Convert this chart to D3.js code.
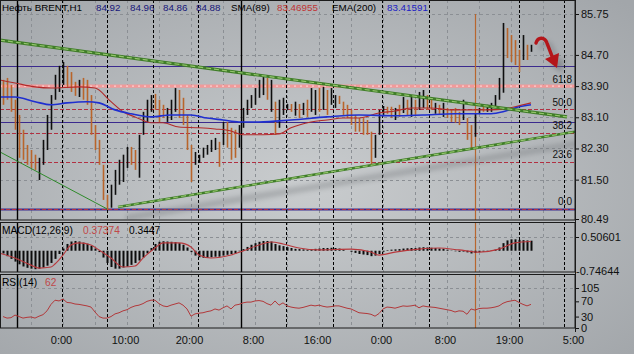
<!DOCTYPE html>
<html>
<head>
<meta charset="utf-8">
<script src="https://cdn.jsdelivr.net/npm/d3@7"></script>
<style>
    html, body { margin: 0; padding: 0; background: #b3b6b9; }
    svg { display: block; font-family: 'Liberation Sans', Arial, sans-serif; }
    .axis text { font-size: 11px; fill: #111; }
    .axis line { stroke: #111; }
</style>
</head>
<body>
<svg id="chart" width="634" height="354"></svg>
<script>
/**
 * Data. Bars are H1, one every bar index.
 */
const barHigh = [84.06,84.11,83.93,83.55,83.16,82.78,82.39,82.26,82.14,82.06, 82.52,83.16,83.67,84.19,84.42,84.52,84.42,84.26,84.01,84.06,
    84.11,84.06,83.67,82.90,82.52,81.88,81.11,81.37,81.75,82.01, 82.14,82.34,82.34,82.26,82.65,83.24,83.55,83.67,83.70,83.55,
    83.42,83.34,83.55,83.85,83.80,83.60,83.16,82.39,82.21,82.14, 82.32,82.39,82.52,82.57,82.47,82.98,82.98,82.83,82.78,82.90,
    83.34,83.55,83.67,83.85,84.06,84.16,84.11,84.06,83.50,83.55, 83.60,83.44,83.44,83.50,83.44,83.47,83.55,83.85,83.80,83.85,
    83.88,83.80,83.85,83.67,83.65,83.50,83.42,83.29,83.16,83.08, 83.08,83.03,82.73,82.65,83.29,83.39,83.37,83.37,83.34,83.42,
    83.62,83.55,83.62,83.55,83.75,83.80,83.67,83.55,83.47,83.42, 83.47,83.34,83.29,83.34,83.24,83.55,83.08,82.90,83.21,83.34,
    83.39,83.42,83.47,83.67,84.11,85.52,85.39,85.21,85.08,84.83, 85.21,84.96,84.96];
const barLow = [83.42,83.55,83.24,82.78,82.06,82.01,81.88,81.80,81.75,81.49, 81.88,82.26,82.78,83.55,83.75,83.93,83.85,83.75,83.65,83.62,
    83.55,83.42,82.65,82.26,81.88,80.98,80.72,80.78,81.11,81.37, 81.44,81.80,81.88,81.75,81.55,82.65,82.98,83.24,83.29,82.98,
    83.08,82.98,83.03,83.24,83.08,82.90,82.26,81.44,81.88,81.93, 82.06,82.14,82.21,82.26,81.83,82.39,82.32,82.01,82.06,82.32,
    82.83,83.16,83.34,83.42,83.60,83.67,83.55,83.24,82.65,82.83, 83.16,83.29,83.24,83.14,83.08,83.16,83.11,83.24,83.16,83.24,
    83.29,83.16,83.42,83.34,83.44,83.16,83.08,82.90,82.73,82.73, 82.65,82.65,81.88,82.06,82.65,83.16,83.19,83.08,83.03,83.11,
    83.21,83.16,83.11,83.16,83.29,83.34,83.29,83.29,83.19,83.16, 83.11,83.08,82.98,82.96,82.90,83.03,82.52,82.26,82.60,83.21,
    83.24,83.24,83.24,83.37,83.55,83.73,84.62,84.52,84.44,84.26, 84.57,84.57,84.78];
// u = up bar, d = down bar
const barDir = ('ddddddddd' + 'uuuuuuu' + 'dddu' + 'ddddddd' + 'uuuuu' + 'dd' + 'uuuu' + 'ddd' + 'uuu' + 'dddd' +
    'uuuuuu' + 'du' + 'ddd' + 'uuuuuuu' + 'dud' + 'uuu' + 'dudud' + 'uu' + 'dud' + 'uu' + 'ddddddddd' + 'uuu' + 'dd' +
    'ududud' + 'uu' + 'dd' + 'udu' + 'dddd' + 'u' + 'dd' + 'uu' + 'd' + 'uuuuu' + 'dddd' + 'udu').split('');

// [bar index, price]
const smaPoints = [[-1,84.06],[3,83.98],[8,83.88],[12,83.85],[19,83.88],[23,83.85],[27,83.50],[30,83.24],[33,83.11],[37,82.96],
    [40,82.96],[44,82.85],[49,82.83],[53,82.80],[57,82.75],[60,82.65],[65,82.65],[69,82.67],[72,82.83],[77,82.98],[81,83.03],
    [85,83.08],[89,83.08],[94,83.21],[98,83.26],[102,83.34],[107,83.34],[112,83.29],[117,83.29],[122,83.29],[125,83.31],
    [128,83.37],[132,83.47]];
const emaPoints = [[-1,83.62],[3,83.62],[8,83.50],[12,83.42],[16,83.47],[21,83.50],[24,83.47],[28,83.29],[32,83.19],[37,83.11],
    [42,83.16],[47,83.16],[51,83.08],[55,83.03],[59,82.98],[64,82.98],[72,83.03],[81,83.11],[89,83.16],[98,83.14],[105,83.16],
    [113,83.19],[122,83.19],[125,83.24],[128,83.34],[132,83.42]];

const macdHist = [-0.10,-0.20,-0.30,-0.40,-0.50,-0.58,-0.63,-0.66,-0.68,-0.66, -0.62,-0.55,-0.45,-0.30,-0.12,0.08,0.25,0.34,0.36,0.34,
    0.30,0.26,0.18,0.08,-0.05,-0.25,-0.45,-0.60,-0.66,-0.66, -0.62,-0.58,-0.52,-0.45,-0.36,-0.25,-0.10,0.10,0.25,0.33,
    0.35,0.34,0.33,0.32,0.28,0.22,0.12,-0.05,-0.18,-0.24, -0.26,-0.26,-0.24,-0.22,-0.22,-0.18,-0.15,-0.12,-0.10,-0.02,
    0.06,0.14,0.22,0.28,0.33,0.36,0.36,0.34,0.25,0.20, 0.17,0.13,0.10,0.07,0.06,0.05,0.04,0.06,0.07,0.08,
    0.10,0.10,0.11,0.10,0.08,0.04,0.00,-0.04,-0.08,-0.12, -0.14,-0.16,-0.20,-0.18,-0.12,-0.04,0.02,0.04,0.05,0.06,
    0.08,0.09,0.10,0.10,0.12,0.13,0.12,0.11,0.10,0.08, 0.07,0.04,0.01,-0.02,-0.04,-0.03,-0.06,-0.10,-0.08,-0.05,
    -0.03,-0.01,0.01,0.04,0.12,0.28,0.38,0.42,0.42,0.40, 0.39,0.38,0.37];
const macdSignal = [[-1,-0.08],[3,-0.27],[7,-0.53],[9,-0.64],[12,-0.60],[13,-0.49],[15,-0.16],[17,0.21],[19,0.29],[22,0.21],
    [24,0.03],[27,-0.27],[30,-0.60],[33,-0.56],[35,-0.27],[38,0.10],[40,0.29],[44,0.29],[47,0.14],[49,-0.16],[52,-0.27],
    [57,-0.16],[60,-0.01],[64,0.21],[67,0.32],[70,0.25],[74,0.10],[79,0.03],[87,0.06],[92,-0.05],[94,-0.16],[98,-0.05],
    [104,0.06],[109,0.10],[114,0.03],[119,-0.05],[124,0.06],[128,0.29],[132,0.34]];

const rsiValues = [30,26,27,34,30,26,28,29,26,31, 35,45,62,73,71,76,67,66,63,62, 60,58,55,42,30,26,26,30,37,40,
    45,48,54,58,60,64,70,73,73,64, 58,56,60,63,66,60,50,31,37,39, 40,43,45,50,47,53,58,50,60,62,
    66,68,68,71,72,70,64,60,71,60, 66,58,55,53,52,54,57,60,58,60, 57,55,56,58,58,55,52,50,45,40,
    39,38,36,31,38,50,55,54,52,55, 58,57,58,60,53,58,56,55,54,52, 50,48,46,42,45,44,36,50,47,51,
    52,52,53,55,58,65,69,71,73,67, 62,58,62];

// Fibonacci grid and drawn objects
const fibLow = 80.75, fibHigh = 85.85;
const fibLevels = [0, 23.6, 38.2, 50.0, 61.8];
const fibLabels = ['0.0', '23.6', '38.2', '50.0', '61.8'];
const supportLines = [84.42, 82.98, 80.75];
const markedLine = 83.90;
const trendThick = [[[-0.75, 85.08], [141, 83.11]], [[28.75, 80.80], [143, 82.73]]];
const trendThin = [[-0.75, 82.21], [26, 80.75]];
const vSolid = [3.5, 59.5];
const vDashed = [14.75, 26, 37.5, 48.75, 70.75, 82.5, 94.75, 106.5, 129, 140.25];
const vMarker = 118;

// Axes
const priceTicks = [85.75, 84.70, 83.90, 83.10, 82.30, 81.50, 80.49];
const macdTicks = [0.50601, -0.74644];
const rsiTicks = [105, 70, 30, 0];
const timeLabels = ['0:00', '10:00', '20:00', '8:00', '16:00', '0:00', '8:00', '19:00', '5:00'];
const timePos = [14.5, 30.5, 46.5, 62.5, 78.5, 94.5, 110.5, 126.5, 142.5];

// Legends
const headerTexts = ['Нефть BRENT,H1', '84.92', '84.96', '84.86', '84.88', 'SMA(89)', '83.46955', 'EMA(200)', '83.41591'];
const macdTexts = ['MACD(12,26,9)', '0.37374', '0.3447'];
const rsiTexts = ['RSI(14)', '62'];

/**
 * Visual configs.
 */
const plotRight = 575,
    panels = {
        main: { top: 0, bottom: 220 },
        macd: { top: 222, bottom: 272 },
        rsi: { top: 274, bottom: 328 }
    },
    headerX = [2, 96, 130, 163, 196, 231, 277, 332, 387],
    headerFill = ['#000', '#16167a', '#16167a', '#16167a', '#16167a', '#000', '#c03434', '#000', '#2020c4'],
    upColor = '#0e0e0e',
    downColor = '#b9652b';

const svg = d3.select('#chart');

/**
 * D3 scales.
 */
const xScale = d3.scaleLinear().domain([0, 1]).range([3, 7]),
    yPrice = d3.scaleLinear().domain([80.49, 85.75]).range([219, 14]),
    yMacd = d3.scaleLinear().domain([-0.74644, 0.50601]).range([271, 237]),
    yRsi = d3.scaleLinear().domain([0, 105]).range([328, 288]);

const px = v => Math.round(xScale(v)) + 0.5;

function addDefs() {
    const defs = svg.append('defs');
    const bg = defs.append('radialGradient').attr('id', 'bg')
        .attr('cx', '48%').attr('cy', '52%').attr('r', '72%');
    bg.append('stop').attr('offset', '0%').attr('stop-color', '#c9ccce');
    bg.append('stop').attr('offset', '100%').attr('stop-color', '#a2a6aa');

    defs.append('filter').attr('id', 'blur').attr('x', '-20%').attr('y', '-200%').attr('width', '140%').attr('height', '500%')
        .append('feGaussianBlur').attr('stdDeviation', 2.5);

    Object.entries(panels).forEach(([k, p]) => {
        defs.append('clipPath').attr('id', 'clip-' + k)
            .append('rect').attr('x', 0).attr('y', p.top).attr('width', plotRight).attr('height', p.bottom - p.top);
    });
}

function addGrid(g, p, yLevels, yScale) {
    const dash = '3,3', col = '#8b8f94';
    g.selectAll('line.vgrid').data(d3.range(7, 143, 8)).join('line').attr('class', 'vgrid')
        .attr('x1', px).attr('x2', px).attr('y1', p.top).attr('y2', p.bottom)
        .attr('stroke', col).attr('stroke-dasharray', dash);
    g.selectAll('line.hgrid').data(yLevels).join('line').attr('class', 'hgrid')
        .attr('x1', 0).attr('x2', plotRight)
        .attr('y1', d => Math.round(yScale(d)) + 0.5).attr('y2', d => Math.round(yScale(d)) + 0.5)
        .attr('stroke', col).attr('stroke-dasharray', dash);
}

function addSeparators(g, p) {
    g.selectAll('line.vsolid').data(vSolid).join('line').attr('class', 'vsolid')
        .attr('x1', px).attr('x2', px).attr('y1', p.top).attr('y2', p.bottom)
        .attr('stroke', '#000').attr('stroke-width', 1.4);
    g.selectAll('line.vdash').data(vDashed).join('line').attr('class', 'vdash')
        .attr('x1', px).attr('x2', px).attr('y1', p.top).attr('y2', p.bottom)
        .attr('stroke', '#000').attr('stroke-dasharray', '3,2');
    g.append('line')
        .attr('x1', px(vMarker)).attr('x2', px(vMarker))
        .attr('y1', Math.max(p.top, yPrice(85.75))).attr('y2', p.bottom)
        .attr('stroke', '#b8662e').attr('stroke-width', 1.2);
}

function drawMain() {
    const p = panels.main;
    const g = svg.append('g').attr('clip-path', 'url(#clip-main)');
    addGrid(g, p, priceTicks.slice(0, 6), yPrice);

    // Fibo levels
    const fibPrice = l => fibLow + (fibHigh - fibLow) * l / 100;
    g.selectAll('line.sup').data(supportLines).join('line').attr('class', 'sup')
        .attr('x1', 0).attr('x2', plotRight)
        .attr('y1', d => Math.round(yPrice(d)) + 0.5).attr('y2', d => Math.round(yPrice(d)) + 0.5)
        .attr('stroke', '#3b2a8e').attr('stroke-width', (d, i) => i === 2 ? 2 : 1.2);
    g.selectAll('line.fib').data(fibLevels).join('line').attr('class', 'fib')
        .attr('x1', 0).attr('x2', plotRight)
        .attr('y1', d => Math.round(yPrice(fibPrice(d))) + 0.5).attr('y2', d => Math.round(yPrice(fibPrice(d))) + 0.5)
        .attr('stroke', '#b23042').attr('stroke-dasharray', '4,2');
    g.selectAll('text.fib').data(fibLevels).join('text').attr('class', 'fib')
        .attr('x', 572).attr('y', d => yPrice(fibPrice(d)) - 3.5)
        .attr('text-anchor', 'end').attr('font-size', 10).attr('fill', '#111')
        .text((d, i) => fibLabels[i]);

    // Marked level with shadow
    const my = yPrice(markedLine);
    g.append('line').attr('x1', 0).attr('x2', plotRight).attr('y1', my + 8).attr('y2', my + 8)
        .attr('stroke', '#6d7175').attr('stroke-width', 4).attr('opacity', 0.55).attr('filter', 'url(#blur)');
    g.append('line').attr('x1', 0).attr('x2', plotRight).attr('y1', my).attr('y2', my)
        .attr('stroke', '#f19a9a').attr('stroke-width', 3.2);
    g.append('line').attr('x1', 0).attr('x2', plotRight).attr('y1', my).attr('y2', my)
        .attr('stroke', '#fbd0d0').attr('stroke-width', 1.2).attr('stroke-dasharray', '2,4');

    addSeparators(g, p);

    // Bars
    const bars = barHigh.map((h, i) => ({ i, high: h, low: barLow[i], up: barDir[i] === 'u' }));
    g.selectAll('line.bar').data(bars).join('line').attr('class', 'bar')
        .attr('x1', d => px(d.i)).attr('x2', d => px(d.i))
        .attr('y1', d => yPrice(d.high)).attr('y2', d => yPrice(d.low))
        .attr('stroke', d => d.up ? upColor : downColor).attr('stroke-width', 1.6);

    // Moving averages
    const line = d3.line().x(d => xScale(d[0])).y(d => yPrice(d[1])).curve(d3.curveMonotoneX);
    g.append('path').attr('d', line(smaPoints)).attr('fill', 'none').attr('stroke', '#b22a2a').attr('stroke-width', 1.1);
    g.append('path').attr('d', line(emaPoints)).attr('fill', 'none').attr('stroke', '#1f2fd0').attr('stroke-width', 1.6);

    // Trend lines
    const tl = d3.line().x(d => xScale(d[0])).y(d => yPrice(d[1]));
    const rising = trendThick[1];
    g.append('path').attr('d', tl(rising)).attr('transform', 'translate(8,11)')
        .attr('fill', 'none').attr('stroke', '#74787c').attr('stroke-width', 6).attr('opacity', 0.4).attr('filter', 'url(#blur)');
    g.append('path').attr('d', tl(trendThin)).attr('fill', 'none').attr('stroke', '#2e8a2a').attr('stroke-width', 1);
    trendThick.forEach((t, i) => {
        g.append('path').attr('d', tl(t)).attr('fill', 'none').attr('stroke', '#3f7d28').attr('stroke-width', i ? 2.6 : 3.2);
        g.append('path').attr('d', tl(t)).attr('fill', 'none').attr('stroke', '#93c46c')
            .attr('stroke-width', 1.2).attr('stroke-dasharray', '5,3');
    });

    // Arrow annotation
    const ax = xScale(133.5), ay = yPrice(85.03);
    const arrow = svg.append('g');
    [['translate(' + (ax + 5) + ',' + (ay + 5) + ')', '#6c7074', 0.55, 'url(#blur)'],
        ['translate(' + ax + ',' + ay + ')', '#b4161a', 1, null]].forEach(([tr, col, op, f]) => {
        const a = arrow.append('g').attr('transform', tr).attr('opacity', op).attr('filter', f);
        a.append('path').attr('d', 'M-1,1 C1,-6 8,-5 10,1 L15,14')
            .attr('fill', 'none').attr('stroke', col).attr('stroke-width', 3.4).attr('stroke-linecap', 'round');
        a.append('path').attr('d', 'M20,26 L8,17 L22,11 Z').attr('fill', col);
    });

    // Header
    svg.selectAll('text.head').data(headerTexts).join('text').attr('class', 'head')
        .attr('x', (d, i) => headerX[i]).attr('y', 11)
        .attr('font-size', 9.8).attr('fill', (d, i) => headerFill[i]).text(d => d);
}

function drawMacd() {
    const p = panels.macd;
    const g = svg.append('g').attr('clip-path', 'url(#clip-macd)');
    addGrid(g, p, [macdTicks[0]], yMacd);
    addSeparators(g, p);

    g.selectAll('line.hist').data(macdHist).join('line').attr('class', 'hist')
        .attr('x1', (d, i) => xScale(i) + 0.5).attr('x2', (d, i) => xScale(i) + 0.5)
        .attr('y1', yMacd(0)).attr('y2', d => yMacd(d))
        .attr('stroke', '#0c0c0c').attr('stroke-width', 2);

    const line = d3.line().x(d => xScale(d[0])).y(d => yMacd(d[1])).curve(d3.curveMonotoneX);
    g.append('path').attr('d', line(macdSignal)).attr('fill', 'none').attr('stroke', '#b8383c').attr('stroke-width', 1.1);

    const fills = ['#000', '#c04848', '#000'], xs = [2, 83, 129];
    svg.selectAll('text.macd').data(macdTexts).join('text').attr('class', 'macd')
        .attr('x', (d, i) => xs[i]).attr('y', p.top + 12)
        .attr('font-size', 10.2).attr('fill', (d, i) => fills[i]).text(d => d);
}

function drawRsi() {
    const p = panels.rsi;
    const g = svg.append('g').attr('clip-path', 'url(#clip-rsi)');
    addGrid(g, p, [105], yRsi);
    addSeparators(g, p);

    const line = d3.line().x((d, i) => xScale(i)).y(d => yRsi(d));
    g.append('path').attr('d', line(rsiValues)).attr('fill', 'none').attr('stroke', '#b2383a').attr('stroke-width', 1);

    const fills = ['#000', '#c04848'], xs = [2, 45];
    svg.selectAll('text.rsi').data(rsiTexts).join('text').attr('class', 'rsi')
        .attr('x', (d, i) => xs[i]).attr('y', p.top + 12)
        .attr('font-size', 10.2).attr('fill', (d, i) => fills[i]).text(d => d);
}

function drawFramesAndAxes() {
    Object.values(panels).forEach(p => {
        svg.append('rect').attr('x', 0.5).attr('y', p.top + 0.5)
            .attr('width', plotRight - 0.5).attr('height', p.bottom - p.top - 0.5)
            .attr('fill', 'none').attr('stroke', '#1b1b1b');
    });

    const priceAxis = svg.append('g').attr('class', 'axis').attr('transform', 'translate(' + plotRight + ',0)')
        .call(d3.axisRight(yPrice).tickValues(priceTicks).tickFormat(d3.format('.2f')).tickSize(4).tickPadding(2));
    const macdAxis = svg.append('g').attr('class', 'axis').attr('transform', 'translate(' + plotRight + ',0)')
        .call(d3.axisRight(yMacd).tickValues(macdTicks).tickFormat(d => d.toFixed(5)).tickSize(4).tickPadding(2));
    macdAxis.selectAll('.tick').filter(d => d < 0).each(function() {
        d3.select(this).select('line').remove();
        d3.select(this).select('text').attr('x', 1);
    });
    const rsiAxis = svg.append('g').attr('class', 'axis').attr('transform', 'translate(' + plotRight + ',0)')
        .call(d3.axisRight(yRsi).tickValues(rsiTicks).tickSize(4).tickPadding(2));
    const timeAxis = svg.append('g').attr('class', 'axis').attr('transform', 'translate(0,' + panels.rsi.bottom + ')')
        .call(d3.axisBottom(xScale).tickValues(timePos).tickFormat((d, i) => timeLabels[i]).tickSize(0).tickPadding(8));

    [priceAxis, macdAxis, rsiAxis, timeAxis].forEach(a => a.select('.domain').remove());
    svg.selectAll('.axis text').attr('font-family', "'Liberation Sans', Arial, sans-serif");

    svg.append('line').attr('x1', plotRight + 0.5).attr('x2', plotRight + 0.5).attr('y1', 0).attr('y2', panels.rsi.bottom + 4)
        .attr('stroke', '#1b1b1b');
}

addDefs();
svg.append('rect').attr('width', 634).attr('height', 354).attr('fill', 'url(#bg)');
drawMain();
drawMacd();
drawRsi();
drawFramesAndAxes();
</script>
</body>
</html>
